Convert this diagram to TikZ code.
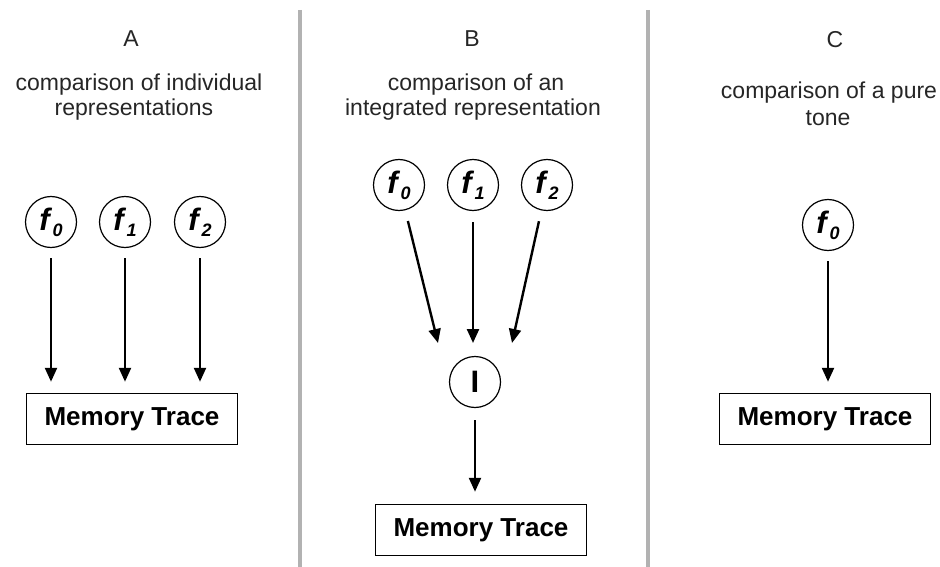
\documentclass[tikz,border=0pt]{standalone}
\usepackage{fontspec}
\setmainfont{Liberation Sans}
\usetikzlibrary{arrows.meta}

\newcommand\feat[1]{\textbf{\textit{f}}\kern0.5pt\raisebox{-6pt}{\fontsize{18}{18}\selectfont\textbf{\textit{#1}}}}

\tikzset{
  head/.style={font=\fontsize{23}{25}\selectfont, text=black!85, align=center, inner sep=0pt},
  featnode/.style={circle, draw, line width=1.2pt, minimum size=51pt, inner sep=0pt,
                   font=\fontsize{31}{31}\selectfont},
  trace/.style={draw, line width=1.5pt, minimum width=211pt, minimum height=51pt,
                inner sep=0pt, font=\fontsize{26}{26}\selectfont\bfseries},
  arr/.style={line width=2.4pt, -{Triangle[length=14pt,width=12pt]}},
  divider/.style={line width=3.5pt, draw=black!30}
}

\begin{document}
\begin{tikzpicture}[x=1pt,y=-1pt]
  \useasboundingbox (0,0) rectangle (940,567);

  % panel separators
  \draw[divider] (300,10) -- (300,567);
  \draw[divider] (648,10) -- (648,567);

  % headings
  \node[head, anchor=base] (ta) at (131,47) {A};
  \node[head, anchor=base] (ha1) at (139,91) {comparison of individual};
  \node[head, anchor=base] (ha2) at (134,116) {representations};

  \node[head, anchor=base] (tb) at (472,47) {B};
  \node[head, anchor=base] (hb1) at (476,91) {comparison of an};
  \node[head, anchor=base] (hb2) at (473,116) {integrated representation};

  \node[head, anchor=base] (tc) at (835,48) {C};
  \node[head, anchor=base] (hc1) at (829,99) {comparison of a pure};
  \node[head, anchor=base] (hc2) at (828,126) {tone};

  % panel A: separate representations
  \node[featnode] (af0) at (51,222) {\feat{0}};
  \node[featnode] (af1) at (125,222) {\feat{1}};
  \node[featnode] (af2) at (200,222) {\feat{2}};
  \node[trace] (am) at (132,419) {Memory Trace};
  \foreach \n in {af0,af1,af2}
    \draw[arr, shorten <=10pt, shorten >=11pt] (\n) -- (\n |- am.north);

  % panel B: integrated representation
  \node[featnode] (bf0) at (399,185) {\feat{0}};
  \node[featnode] (bf1) at (473,185) {\feat{1}};
  \node[featnode] (bf2) at (547,185) {\feat{2}};
  \node[featnode] (bi) at (475,382) {\textbf{I}};
  \node[trace] (bm) at (481,530) {Memory Trace};
  \coordinate (bi0) at (438,343);
  \coordinate (bi1) at (473,343);
  \coordinate (bi2) at (512,343);
  \draw[arr, shorten <=11pt] (bf0) -- (bi0);
  \draw[arr, shorten <=11pt] (bf1) -- (bi1);
  \draw[arr, shorten <=11pt] (bf2) -- (bi2);
  \draw[arr, shorten <=12pt, shorten >=12pt] (bi) -- (bi |- bm.north);

  % panel C: pure tone
  \node[featnode] (cf0) at (828,225) {\feat{0}};
  \node[trace] (cm) at (825,419) {Memory Trace};
  \draw[arr, shorten <=10pt, shorten >=11pt] (cf0) -- (cf0 |- cm.north);
\end{tikzpicture}
\end{document}
